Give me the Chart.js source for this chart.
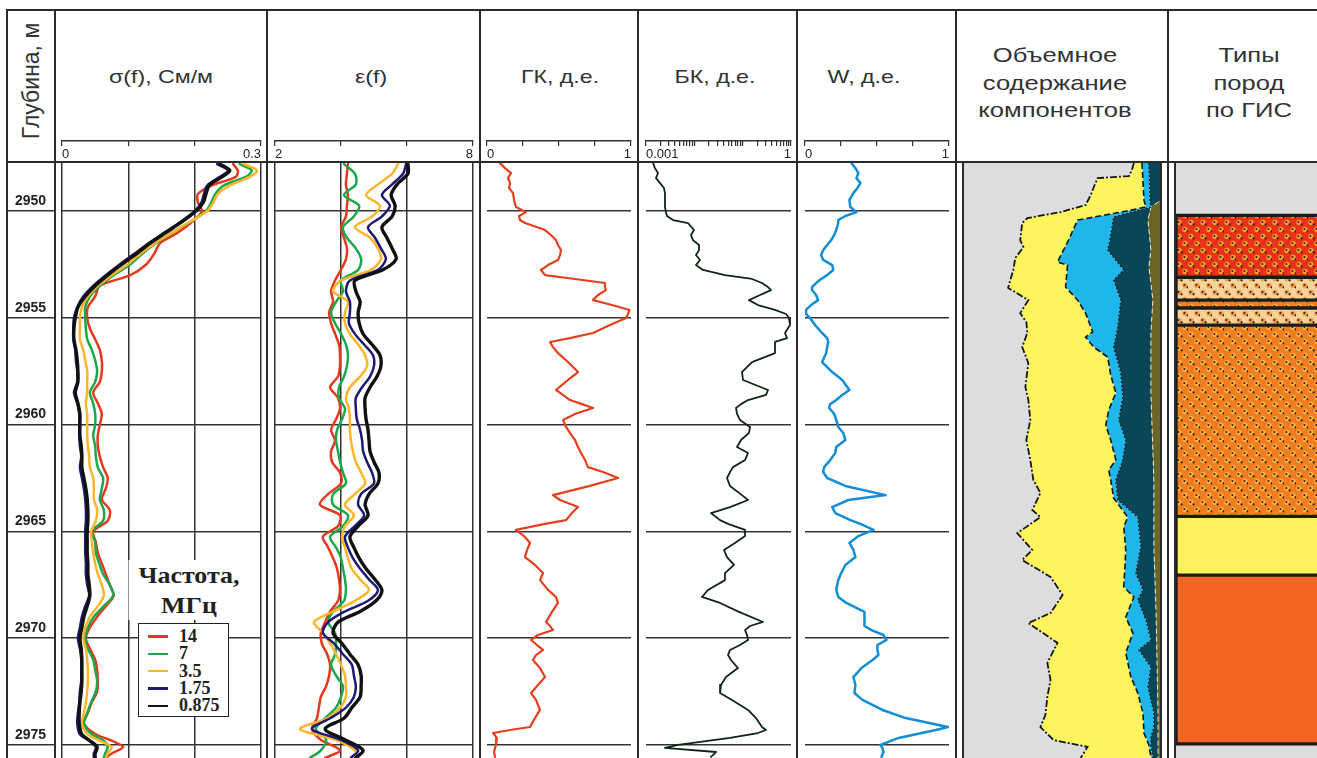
<!DOCTYPE html>
<html lang="ru">
<head>
<meta charset="utf-8">
<title>Каротажный планшет</title>
<script src="https://cdn.jsdelivr.net/npm/chart.js@4.4.1/dist/chart.umd.min.js"></script>
<style>
  html, body { margin: 0; padding: 0; background: #fff; }
  body { width: 1317px; height: 758px; position: relative; overflow: hidden;
         font-family: "Liberation Sans", Arial, sans-serif; color: #333; }
  canvas { position: absolute; }
  .vl { position: absolute; width: 2px; background: #2b2b2b; }
  .hl { position: absolute; height: 2px; background: #2b2b2b; }
  .hdr { position: absolute; width: 220px; text-align: center; font-size: 19px; line-height: 27.5px;
         color: #333; transform: scaleX(1.22); white-space: nowrap; }
  .hdr.big { font-size: 21px; }
  #depthTitle { position: absolute; left: -39px; top: 68px; width: 140px; height: 26px; line-height: 26px;
                text-align: center; font-size: 23px; color: #333; transform: rotate(-90deg); white-space: nowrap; }
  #legendTitle { position: absolute; left: 133px; top: 560px; width: 112px; text-align: center; background: #fff;
                 font-family: "Liberation Serif", "Times New Roman", serif; font-weight: bold; font-size: 24px;
                 line-height: 30px; color: #222; transform: scaleX(1.08); }
  #freqLegend { position: absolute; left: 138px; top: 623px; width: 91px; height: 94px; box-sizing: border-box;
                border: 1.5px solid #222; background: #fff; padding-top: 4px; }
  .lrow { height: 17.3px; display: flex; align-items: center; font-family: "Liberation Serif", "Times New Roman", serif;
          font-weight: bold; font-size: 18px; color: #222; }
  .sw { display: inline-block; width: 20px; height: 2.5px; margin-left: 9px; margin-right: 11px; }
</style>
</head>
<body>

<div id="depthTitle">Глубина, м</div>
<div class="hdr" style="left:51px; top:63px;">σ(f), См/м</div>
<div class="hdr" style="left:261px; top:63px;">ε(f)</div>
<div class="hdr" style="left:450px; top:63px;">ГК, д.е.</div>
<div class="hdr" style="left:605px; top:63px;">БК, д.е.</div>
<div class="hdr" style="left:754px; top:63px;">W, д.е.</div>
<div class="hdr big" style="left:945px; top:41px;">Объемное<br>содержание<br>компонентов</div>
<div class="hdr big" style="left:1139px; top:41px;">Типы<br>пород<br>по ГИС</div>

<canvas id="depthChart" width="48" height="595" style="left:7px; top:163px;"></canvas>
<canvas id="sigmaChart" width="203" height="630" style="left:60px; top:128px;"></canvas>
<canvas id="epsChart" width="202" height="630" style="left:273px; top:128px;"></canvas>
<canvas id="gkChart" width="148" height="630" style="left:485px; top:128px;"></canvas>
<canvas id="bkChart" width="149" height="630" style="left:644px; top:128px;"></canvas>
<canvas id="wChart" width="148" height="630" style="left:803px; top:128px;"></canvas>
<canvas id="volChart" width="198" height="595" style="left:963px; top:163px;"></canvas>
<canvas id="typesChart" width="141" height="595" style="left:1176px; top:163px;"></canvas>

<div id="legendTitle">Частота,<br>МГц</div>
<div id="freqLegend"></div>

<div id="frame"></div>

<script>
// ---- depth axis -----------------------------------------------------------
const DEPTH_MIN = 2947.75;
const DEPTH_MAX = 2975.61;
const depthLines = [2950, 2955, 2960, 2965, 2970, 2975];

// ---- frequency sounding: conductivity and permittivity ---------------------
const freqLabels = ['14', '7', '3.5', '1.75', '0.875'];
const freqColors = ['#e4391d', '#1aa84b', '#fdb62b', '#1b1a74', '#111111'];

const sigmaDepth = [2947.8, 2948.1, 2948.4, 2948.8, 2949.2, 2949.6, 2950.0, 2950.5, 2951.0, 2951.5,
  2952.0, 2952.5, 2953.0, 2953.5, 2954.0, 2954.5, 2955.0, 2955.5, 2956.0, 2956.5,
  2957.0, 2957.5, 2958.0, 2958.5, 2959.0, 2959.5, 2960.0, 2960.5, 2961.0, 2961.5,
  2962.0, 2962.5, 2963.0, 2963.5, 2964.0, 2964.5, 2965.0, 2965.5, 2966.0, 2966.5,
  2967.0, 2967.5, 2968.0, 2968.5, 2969.0, 2969.5, 2970.0, 2970.5, 2971.0, 2971.5,
  2972.0, 2972.5, 2973.0, 2973.5, 2974.0, 2974.5, 2974.8, 2975.1, 2975.4, 2975.6];

const sigma14 = [0.258, 0.265, 0.262, 0.226, 0.205, 0.205, 0.211, 0.196, 0.175, 0.148,
  0.139, 0.127, 0.103, 0.057, 0.050, 0.039, 0.038, 0.042, 0.050, 0.057,
  0.060, 0.060, 0.057, 0.047, 0.054, 0.060, 0.057, 0.054, 0.054, 0.057,
  0.062, 0.069, 0.066, 0.060, 0.072, 0.069, 0.047, 0.051, 0.054, 0.060,
  0.066, 0.072, 0.078, 0.066, 0.053, 0.042, 0.036, 0.042, 0.050, 0.053,
  0.054, 0.053, 0.045, 0.039, 0.033, 0.051, 0.075, 0.092, 0.075, 0.066];
const sigma7 = [0.268, 0.286, 0.277, 0.244, 0.231, 0.225, 0.217, 0.194, 0.166, 0.142,
  0.121, 0.103, 0.078, 0.057, 0.042, 0.035, 0.035, 0.036, 0.038, 0.045,
  0.050, 0.053, 0.050, 0.042, 0.047, 0.050, 0.050, 0.047, 0.050, 0.051,
  0.054, 0.062, 0.060, 0.057, 0.063, 0.062, 0.045, 0.050, 0.051, 0.056,
  0.062, 0.072, 0.077, 0.063, 0.048, 0.039, 0.035, 0.039, 0.047, 0.050,
  0.053, 0.051, 0.044, 0.038, 0.033, 0.045, 0.063, 0.069, 0.065, 0.063];
const sigma35 = [0.274, 0.294, 0.283, 0.253, 0.235, 0.228, 0.219, 0.193, 0.166, 0.140,
  0.118, 0.099, 0.075, 0.054, 0.039, 0.030, 0.027, 0.027, 0.027, 0.032,
  0.035, 0.038, 0.038, 0.038, 0.036, 0.038, 0.038, 0.038, 0.039, 0.041,
  0.042, 0.047, 0.048, 0.048, 0.053, 0.051, 0.044, 0.045, 0.047, 0.050,
  0.054, 0.060, 0.063, 0.054, 0.042, 0.035, 0.032, 0.036, 0.038, 0.039,
  0.039, 0.038, 0.036, 0.033, 0.030, 0.039, 0.057, 0.075, 0.069, 0.066];
const sigma175 = [0.234, 0.250, 0.238, 0.219, 0.214, 0.210, 0.200, 0.179, 0.155, 0.131,
  0.109, 0.087, 0.066, 0.047, 0.032, 0.023, 0.018, 0.017, 0.017, 0.020,
  0.021, 0.023, 0.023, 0.018, 0.023, 0.026, 0.026, 0.026, 0.027, 0.029,
  0.027, 0.030, 0.033, 0.035, 0.036, 0.036, 0.035, 0.035, 0.035, 0.036,
  0.036, 0.038, 0.041, 0.035, 0.030, 0.027, 0.024, 0.027, 0.029, 0.029,
  0.029, 0.027, 0.026, 0.024, 0.023, 0.027, 0.041, 0.051, 0.048, 0.048];
const sigma0875 = [0.238, 0.253, 0.241, 0.222, 0.217, 0.213, 0.202, 0.181, 0.157, 0.133,
  0.112, 0.090, 0.069, 0.050, 0.035, 0.024, 0.020, 0.018, 0.018, 0.021,
  0.023, 0.024, 0.024, 0.020, 0.024, 0.027, 0.027, 0.027, 0.029, 0.030,
  0.030, 0.033, 0.036, 0.038, 0.039, 0.039, 0.038, 0.038, 0.038, 0.039,
  0.039, 0.041, 0.042, 0.038, 0.033, 0.030, 0.027, 0.029, 0.030, 0.030,
  0.030, 0.029, 0.027, 0.026, 0.026, 0.030, 0.042, 0.053, 0.050, 0.050];

const epsDepth = [2947.8, 2948.25, 2948.75, 2949.25, 2949.75, 2950.25, 2950.75, 2951.25, 2951.75, 2952.25,
  2952.75, 2953.25, 2953.75, 2954.25, 2954.75, 2955.25, 2955.75, 2956.25, 2956.75, 2957.25,
  2957.75, 2958.25, 2958.75, 2959.25, 2959.75, 2960.25, 2960.75, 2961.25, 2961.75, 2962.25,
  2962.75, 2963.25, 2963.75, 2964.25, 2964.75, 2965.25, 2965.75, 2966.25, 2966.75, 2967.25,
  2967.75, 2968.25, 2968.75, 2969.25, 2969.75, 2970.25, 2970.75, 2971.25, 2971.75, 2972.25,
  2972.75, 2973.25, 2973.75, 2974.25, 2974.75, 2975.25, 2975.6];

const eps14 = [4.21, 4.18, 4.15, 4.21, 4.18, 4.15, 4.00, 4.09, 4.18, 4.15,
  4.00, 3.82, 3.70, 3.76, 3.64, 3.70, 3.82, 3.94, 3.97, 3.97,
  3.91, 3.67, 3.91, 3.97, 3.85, 3.70, 3.82, 3.70, 3.73, 3.97,
  4.00, 3.61, 3.36, 3.97, 3.91, 3.45, 3.61, 3.76, 3.88, 3.94,
  3.97, 3.91, 3.67, 3.52, 3.39, 3.42, 3.58, 3.67, 3.64, 3.55,
  3.39, 3.33, 3.27, 3.12, 3.39, 3.97, 3.52];
const eps7 = [4.09, 4.42, 4.45, 4.09, 4.55, 4.39, 4.06, 4.18, 4.45, 4.61,
  4.52, 4.00, 4.06, 3.85, 3.70, 3.82, 4.00, 4.15, 4.21, 4.18,
  4.09, 3.94, 3.94, 4.12, 4.03, 3.88, 3.85, 3.91, 3.97, 4.06,
  4.15, 3.76, 3.76, 4.21, 4.06, 3.67, 3.85, 4.00, 4.06, 4.12,
  4.15, 4.09, 3.76, 3.61, 3.82, 3.85, 3.82, 3.70, 3.85, 4.06,
  4.00, 3.85, 3.52, 3.24, 3.55, 3.39, 3.06];
const eps35 = [5.73, 5.55, 5.12, 4.76, 5.18, 4.94, 4.42, 4.88, 5.12, 5.21,
  4.91, 4.00, 3.76, 4.21, 4.12, 4.12, 4.27, 4.52, 4.73, 4.79,
  4.58, 4.27, 4.15, 4.24, 4.27, 4.27, 4.30, 4.36, 4.45, 4.61,
  4.73, 4.42, 4.12, 4.39, 4.12, 4.03, 4.12, 4.21, 4.33, 4.58,
  4.85, 4.42, 3.76, 3.18, 3.45, 3.67, 3.85, 4.00, 4.12, 4.15,
  4.15, 3.97, 3.58, 2.76, 3.82, 4.42, 4.52];
const eps175 = [5.97, 5.88, 5.55, 5.24, 5.48, 5.24, 4.82, 5.03, 5.21, 5.36,
  5.12, 4.27, 4.15, 4.27, 4.27, 4.24, 4.42, 4.70, 4.97, 5.00,
  4.88, 4.64, 4.45, 4.45, 4.48, 4.58, 4.64, 4.67, 4.79, 4.94,
  5.00, 4.61, 4.52, 4.70, 4.42, 4.12, 4.21, 4.36, 4.58, 4.85,
  5.12, 4.82, 4.12, 3.61, 3.45, 3.79, 4.06, 4.33, 4.39, 4.45,
  4.39, 4.15, 3.67, 3.12, 3.97, 4.52, 4.30];
const eps0875 = [6.03, 6.03, 5.70, 5.52, 5.64, 5.55, 5.24, 5.39, 5.55, 5.67,
  5.27, 4.42, 4.45, 4.58, 4.52, 4.55, 4.67, 4.94, 5.18, 5.21,
  5.09, 4.88, 4.73, 4.73, 4.76, 4.82, 4.85, 4.88, 5.00, 5.15,
  5.12, 4.85, 4.73, 4.82, 4.52, 4.27, 4.39, 4.55, 4.76, 5.03,
  5.24, 5.06, 4.58, 3.91, 3.76, 4.03, 4.27, 4.52, 4.61, 4.61,
  4.58, 4.33, 4.09, 3.52, 4.12, 4.67, 4.45];

// ---- standard logs: gamma ray, laterolog, water saturation -----------------
const logDepth = [2947.75, 2947.99, 2948.22, 2948.46, 2948.69, 2948.92, 2949.16, 2949.49, 2949.81, 2950.05,
  2950.23, 2950.42, 2950.56, 2950.89, 2951.12, 2951.36, 2951.59, 2951.83, 2952.06, 2952.29,
  2952.53, 2952.76, 2953.00, 2953.18, 2953.37, 2953.56, 2953.70, 2953.93, 2954.17, 2954.40,
  2954.63, 2954.82, 2955.01, 2955.34, 2955.71, 2955.95, 2956.13, 2956.37, 2956.65, 2957.07,
  2957.54, 2957.91, 2958.38, 2958.61, 2958.85, 2959.04, 2959.22, 2959.50, 2959.78, 2960.11,
  2960.39, 2960.72, 2961.05, 2961.33, 2961.66, 2961.99, 2962.22, 2962.50, 2962.87, 2963.30,
  2963.53, 2963.86, 2964.14, 2964.47, 2964.65, 2964.93, 2965.22, 2965.54, 2965.87, 2966.20,
  2966.57, 2966.95, 2967.28, 2967.74, 2968.07, 2968.35, 2968.77, 2969.24, 2969.43, 2969.62,
  2969.85, 2970.08, 2970.32, 2970.55, 2970.79, 2971.02, 2971.40, 2971.82, 2972.19, 2972.57,
  2972.89, 2973.36, 2973.74, 2974.16, 2974.30, 2974.44, 2974.67, 2975.00, 2975.14, 2975.33,
  2975.56];

const gkValues = [0.090, 0.125, 0.167, 0.146, 0.160, 0.153, 0.181, 0.188, 0.201, 0.271,
  0.222, 0.229, 0.264, 0.403, 0.444, 0.479, 0.493, 0.514, 0.507, 0.493,
  0.424, 0.375, 0.403, 0.611, 0.819, 0.819, 0.826, 0.771, 0.736, 0.868,
  0.990, 0.979, 0.965, 0.854, 0.736, 0.576, 0.438, 0.458, 0.493, 0.563,
  0.632, 0.563, 0.479, 0.528, 0.576, 0.660, 0.736, 0.611, 0.528, 0.549,
  0.576, 0.611, 0.632, 0.653, 0.681, 0.701, 0.806, 0.910, 0.715, 0.458,
  0.507, 0.632, 0.590, 0.549, 0.403, 0.201, 0.257, 0.299, 0.278, 0.264,
  0.333, 0.389, 0.368, 0.424, 0.479, 0.493, 0.451, 0.410, 0.438, 0.458,
  0.354, 0.306, 0.347, 0.389, 0.340, 0.319, 0.368, 0.403, 0.354, 0.306,
  0.340, 0.368, 0.333, 0.299, 0.160, 0.042, 0.069, 0.063, 0.056, 0.049,
  0.056];

const bkValues = [0.0014, 0.00153, 0.00177, 0.00161, 0.00195, 0.00235, 0.00247, 0.00247, 0.00247, 0.00259,
  0.00272, 0.00362, 0.0074, 0.00984, 0.00853, 0.00938, 0.0125, 0.0125, 0.01081, 0.01309,
  0.01081, 0.0151, 0.043, 0.156, 0.251, 0.334, 0.385, 0.229, 0.135, 0.207,
  0.467, 0.789, 0.91, 0.953, 0.752, 0.826, 0.467, 0.467, 0.467, 0.156,
  0.0968, 0.1016, 0.334, 0.304, 0.129, 0.0925, 0.0728, 0.0764, 0.0881, 0.142,
  0.135, 0.0925, 0.0764, 0.129, 0.112, 0.0631, 0.0547, 0.0474, 0.0547, 0.0968,
  0.129, 0.0547, 0.0221, 0.034, 0.0498, 0.112, 0.112, 0.0693, 0.0411, 0.0474,
  0.0662, 0.043, 0.043, 0.0192, 0.0144, 0.034, 0.0839, 0.264, 0.142, 0.112,
  0.123, 0.129, 0.0881, 0.0547, 0.0498, 0.0574, 0.08, 0.0452, 0.0356, 0.034,
  0.0601, 0.129, 0.189, 0.251, 0.304, 0.207, 0.0547, 0.00459, 0.00247, 0.0281,
  0.0221];

const wValues = [0.322, 0.350, 0.371, 0.357, 0.385, 0.364, 0.336, 0.308, 0.315, 0.357,
  0.280, 0.231, 0.231, 0.217, 0.203, 0.182, 0.154, 0.126, 0.112, 0.126,
  0.189, 0.196, 0.154, 0.112, 0.077, 0.049, 0.049, 0.077, 0.091, 0.042,
  0.007, 0.007, 0.035, 0.070, 0.119, 0.154, 0.161, 0.154, 0.147, 0.119,
  0.189, 0.259, 0.308, 0.259, 0.217, 0.175, 0.168, 0.203, 0.217, 0.231,
  0.266, 0.280, 0.217, 0.210, 0.175, 0.133, 0.126, 0.154, 0.280, 0.559,
  0.301, 0.189, 0.210, 0.315, 0.385, 0.476, 0.371, 0.308, 0.336, 0.350,
  0.280, 0.252, 0.231, 0.217, 0.231, 0.287, 0.413, 0.413, 0.413, 0.462,
  0.545, 0.566, 0.503, 0.503, 0.510, 0.469, 0.392, 0.336, 0.350, 0.343,
  0.399, 0.538, 0.699, 0.993, 0.909, 0.811, 0.650, 0.524, 0.538, 0.545,
  0.531];

// ---- volumetric model: cumulative component boundaries (fraction of 1) ------
const volDepthA = [2947.75, 2948.08, 2948.36, 2948.46, 2948.78, 2949.25, 2949.72, 2950.05, 2950.33, 2950.56,
  2951.36, 2951.69, 2952.20, 2952.76, 2953.23, 2953.60, 2954.17, 2954.78, 2955.20, 2955.71,
  2956.37, 2957.12, 2958.24, 2958.85, 2959.78, 2960.72, 2961.66, 2962.59, 2963.20, 2964.00,
  2964.33, 2965.08, 2965.87, 2966.34, 2967.13, 2967.98, 2968.82, 2969.29, 2970.22, 2971.16,
  2971.95, 2972.75, 2973.60, 2974.16, 2974.77, 2975.09, 2975.61];
const volEdgeA = [0.863, 0.853, 0.838, 0.680, 0.665, 0.645, 0.619, 0.492, 0.325, 0.299,
  0.289, 0.305, 0.264, 0.254, 0.239, 0.228, 0.330, 0.289, 0.320, 0.325,
  0.299, 0.330, 0.315, 0.330, 0.340, 0.320, 0.340, 0.355, 0.391, 0.350,
  0.391, 0.274, 0.350, 0.299, 0.442, 0.503, 0.442, 0.330, 0.477, 0.426,
  0.442, 0.426, 0.416, 0.391, 0.457, 0.629, 0.594];

const volDepthB = [2947.75, 2949.49, 2949.81, 2950.05, 2950.42, 2951.36, 2952.39, 2952.53, 2953.56, 2954.17,
  2954.78, 2955.66, 2955.90, 2956.37, 2956.84, 2957.68, 2958.52, 2959.32, 2960.02, 2960.72,
  2961.66, 2962.13, 2962.59, 2963.44, 2964.33, 2964.79, 2965.87, 2966.81, 2967.60, 2968.07,
  2969.01, 2969.76, 2970.69, 2971.82, 2972.57, 2973.51, 2974.44, 2975.00, 2975.61];
const volEdgeB = [0.904, 0.914, 0.924, 0.797, 0.579, 0.533, 0.477, 0.528, 0.518, 0.579,
  0.619, 0.655, 0.619, 0.660, 0.731, 0.746, 0.772, 0.736, 0.721, 0.746,
  0.772, 0.736, 0.746, 0.761, 0.832, 0.812, 0.822, 0.817, 0.812, 0.863,
  0.822, 0.858, 0.822, 0.848, 0.883, 0.909, 0.914, 0.939, 0.949];

const volDepthC = [2947.75, 2949.49, 2949.81, 2950.05, 2950.28, 2951.12, 2951.83, 2952.76, 2953.23, 2954.17,
  2955.43, 2956.37, 2957.58, 2958.71, 2959.78, 2960.72, 2961.66, 2962.59, 2963.53, 2964.33,
  2965.73, 2966.95, 2967.74, 2968.21, 2969.15, 2970.08, 2970.55, 2971.35, 2972.28, 2973.51,
  2974.16, 2974.63, 2975.00, 2975.61];
const volEdgeC = [0.939, 0.944, 0.949, 0.848, 0.761, 0.746, 0.731, 0.812, 0.761, 0.797,
  0.782, 0.761, 0.797, 0.807, 0.787, 0.822, 0.807, 0.772, 0.782, 0.883,
  0.898, 0.873, 0.909, 0.883, 0.924, 0.949, 0.888, 0.949, 0.934, 0.964,
  0.964, 0.949, 0.949, 0.959];

const volDepthD = [2947.75, 2949.49, 2949.81, 2950.42, 2951.83, 2952.62, 2954.17, 2955.71, 2957.30, 2958.52,
  2962.59, 2965.73, 2968.82, 2973.51, 2975.61];
const volEdgeD = [1.0, 1.0, 0.949, 0.934, 0.949, 0.939, 0.959, 0.949, 0.949, 0.949,
  0.964, 0.964, 0.975, 0.985, 0.985];

const volDepthE = [2947.75, 2975.61];
const volEdgeE = [1.0, 1.0];

// ---- rock types interpreted from logs -----------------------------------------
const layerTop  = [2947.75, 2950.2, 2953.1, 2954.17, 2954.54, 2955.34, 2964.3, 2967.05, 2974.95];
const layerBase = [2950.2, 2953.1, 2954.17, 2954.54, 2955.34, 2964.3, 2967.05, 2974.95, 2975.61];
const layerKind = ['none', 'sandRed', 'sandLight', 'sandOrange', 'sandLight', 'sandOrange', 'yellow', 'orange', 'none'];

// ---------------------------------------------------------------------------
const FONT = "'Liberation Sans', Arial, sans-serif";
const pts = (depths, vals) => vals.map((v, i) => ({ x: v, y: depths[i] }));

const baseOptions = () => ({
  responsive: false,
  animation: false,
  events: [],
  plugins: { legend: { display: false }, tooltip: { enabled: false }, title: { display: false } },
  elements: { point: { radius: 0 } }
});

function depthScale(showGrid) {
  return {
    type: 'linear', reverse: true, min: DEPTH_MIN, max: DEPTH_MAX, position: 'left',
    afterBuildTicks: s => { s.ticks = depthLines.map(v => ({ value: v })); },
    afterFit: s => { s.width = 0; s.paddingTop = 0; s.paddingBottom = 0; },
    ticks: { display: false },
    border: { display: false },
    grid: { display: showGrid, color: '#333', lineWidth: 1.5, drawTicks: false }
  };
}

// One log track: data axis on top (grid only) plus a scale bar in the header.
function makeTrack(id, datasets, cfg) {
  const opts = baseOptions();
  opts.indexAxis = 'y';
  opts.layout = { padding: { left: 2, right: 2, top: 0, bottom: 0 } };
  opts.scales = {
    y: depthScale(true),
    x: {
      type: cfg.type, position: 'top', min: cfg.min, max: cfg.max,
      afterBuildTicks: s => { s.ticks = (cfg.grid.length ? cfg.grid : cfg.bar).map(v => ({ value: v })); },
      afterFit: s => { s.height = 22; s.paddingLeft = 0; s.paddingRight = 0; },
      ticks: { display: false },
      border: { display: false },
      grid: { display: cfg.grid.length > 0, color: '#333', lineWidth: 1.5, drawTicks: false }
    },
    scaleBar: {
      axis: 'x', type: cfg.type, position: 'top', weight: 1, min: cfg.min, max: cfg.max,
      afterBuildTicks: s => { s.ticks = cfg.bar.map(v => ({ value: v })); },
      afterFit: s => { s.height = 13; s.paddingLeft = 0; s.paddingRight = 0; },
      ticks: {
        mirror: true, padding: 6, align: 'inner', autoSkip: false, maxRotation: 0, minRotation: 0,
        color: '#222', font: { family: FONT, size: 13 },
        callback: (v, i, t) => (i === 0 ? cfg.lo : (i === t.length - 1 ? cfg.hi : ''))
      },
      border: { display: true, color: '#333', width: 1.5 },
      grid: { drawOnChartArea: false, drawTicks: true, tickLength: -5, color: '#333', lineWidth: 1.2 }
    }
  };
  return new Chart(document.getElementById(id), { type: 'line', data: { datasets }, options: opts });
}

function curve(depths, vals, color, width, tension, order) {
  return {
    data: pts(depths, vals), borderColor: color, borderWidth: width, tension: tension,
    fill: false, pointRadius: 0, xAxisID: 'x', yAxisID: 'y', order: order,
    borderJoinStyle: 'round', borderCapStyle: 'round'
  };
}

// depth column
(() => {
  const opts = baseOptions();
  opts.layout = { padding: 0 };
  opts.scales = {
    x: { type: 'linear', display: false, min: 0, max: 1 },
    y: {
      type: 'linear', reverse: true, min: DEPTH_MIN, max: DEPTH_MAX, position: 'left',
      afterBuildTicks: s => { s.ticks = depthLines.map(v => ({ value: v })); },
      afterFit: s => { s.width = 0; s.paddingTop = 0; s.paddingBottom = 0; },
      border: { display: false },
      grid: { color: '#333', lineWidth: 1.5, drawTicks: false },
      ticks: { mirror: true, padding: 8, labelOffset: -10, color: '#222',
               font: { family: FONT, size: 14, weight: 'bold' }, callback: v => String(v) }
    }
  };
  new Chart(document.getElementById('depthChart'), { type: 'scatter', data: { datasets: [] }, options: opts });
})();

// σ(f)
const sigmaSeries = [sigma14, sigma7, sigma35, sigma175, sigma0875];
makeTrack('sigmaChart',
  sigmaSeries.map((s, i) => curve(sigmaDepth, s, freqColors[i], i === 4 ? 3.4 : 2.5, 0.3, 4 - i)),
  { type: 'linear', min: 0, max: 0.3, grid: [0, 0.1, 0.2, 0.3], bar: [0, 0.1, 0.2, 0.3], lo: '0', hi: '0.3' });

// ε(f)
const epsSeries = [eps14, eps7, eps35, eps175, eps0875];
makeTrack('epsChart',
  epsSeries.map((s, i) => curve(epsDepth, s, freqColors[i], i === 4 ? 3.4 : 2.5, 0.3, 4 - i)),
  { type: 'linear', min: 2, max: 8, grid: [2, 4, 6, 8], bar: [2, 4, 6, 8], lo: '2', hi: '8' });

// ГК
makeTrack('gkChart', [curve(logDepth, gkValues, '#e5401d', 2.2, 0, 0)],
  { type: 'linear', min: 0, max: 1, grid: [], bar: [0, 0.25, 0.5, 0.75, 1], lo: '0', hi: '1' });

// БК (log scale)
const bkBar = [];
[0.001, 0.01, 0.1].forEach(d => { for (let k = 1; k <= 9; k++) bkBar.push(+(d * k).toPrecision(3)); });
bkBar.push(1);
makeTrack('bkChart', [curve(logDepth, bkValues, '#0f2616', 1.8, 0, 0)],
  { type: 'logarithmic', min: 0.001, max: 1, grid: [], bar: bkBar, lo: '0.001', hi: '1' });

// W
makeTrack('wChart', [curve(logDepth, wValues, '#138ed6', 2.5, 0, 0)],
  { type: 'linear', min: 0, max: 1, grid: [], bar: [0, 0.25, 0.5, 0.75, 1], lo: '0', hi: '1' });

// volumetric content: filled bands between successive boundaries
(() => {
  const band = (depths, vals, fill, bg, line, width, dash) => ({
    data: pts(depths, vals), fill: fill, backgroundColor: bg, borderColor: line, borderWidth: width,
    borderDash: dash, pointRadius: 0, tension: 0
  });
  const opts = baseOptions();
  opts.indexAxis = 'y';
  opts.layout = { padding: 0 };
  opts.scales = {
    x: { type: 'linear', min: 0, max: 1, display: false },
    y: { type: 'linear', reverse: true, min: DEPTH_MIN, max: DEPTH_MAX, display: false }
  };
  new Chart(document.getElementById('volChart'), {
    type: 'line',
    data: { datasets: [
      band(volDepthA, volEdgeA, { value: 0 }, '#dcdddf', '#161616', 1.8, [7, 2, 2, 2]),
      band(volDepthB, volEdgeB, '-1', '#fff35e', '#161616', 1.6, [6, 3]),
      band(volDepthC, volEdgeC, '-1', '#1fb6ec', '#161616', 1.2, [2, 2]),
      band(volDepthD, volEdgeD, '-1', '#0a4658', '#e9e6c8', 1.0, [5, 3]),
      band(volDepthE, volEdgeE, '-1', '#6b6626', 'rgba(0,0,0,0)', 0, [])
    ] },
    options: opts
  });
})();

// rock types column
(() => {
  const canvas = document.getElementById('typesChart');
  const ctx = canvas.getContext('2d');
  const tile = (base, ring, dot) => {
    const c = document.createElement('canvas');
    c.width = 12; c.height = 14;
    const g = c.getContext('2d');
    g.fillStyle = base; g.fillRect(0, 0, 12, 14);
    [[3, 3.5], [9, 10.5]].forEach(([x, y]) => {
      g.fillStyle = ring; g.beginPath(); g.arc(x, y, 2.7, 0, Math.PI * 2); g.fill();
      g.fillStyle = dot;
      g.beginPath(); g.arc(x - 0.6, y - 0.4, 1.0, 0, Math.PI * 2); g.fill();
      g.beginPath(); g.arc(x + 2.6, y + 1.8, 1.1, 0, Math.PI * 2); g.fill();
    });
    return ctx.createPattern(c, 'repeat');
  };
  const fills = {
    none: '#dcdddf',
    sandRed: tile('#e8321d', '#f6a21e', '#2a1a10'),
    sandLight: tile('#f8d29b', '#f2a04a', '#2a1a10'),
    sandOrange: tile('#f07d1f', '#f9b13c', '#2a1a10'),
    yellow: '#fff15c',
    orange: '#f26522'
  };
  const datasets = layerTop.map((t, i) => ({
    data: [[t, layerBase[i]]],
    backgroundColor: fills[layerKind[i]],
    borderColor: '#1c1c1c',
    borderWidth: { top: i === 0 ? 0 : 2, bottom: i === layerTop.length - 1 ? 0 : 2, left: layerKind[i] === 'none' ? 0 : 2, right: 0 },
    borderSkipped: false, grouped: false, barPercentage: 1, categoryPercentage: 1
  }));
  const opts = baseOptions();
  opts.layout = { padding: 0 };
  opts.scales = {
    x: { display: false },
    y: { type: 'linear', reverse: true, min: DEPTH_MIN, max: DEPTH_MAX, display: false }
  };
  new Chart(canvas, { type: 'bar', data: { labels: ['Типы'], datasets }, options: opts });
})();

// legend for the frequency curves
(() => {
  const box = document.getElementById('freqLegend');
  freqLabels.forEach((lab, i) => {
    const row = document.createElement('div');
    row.className = 'lrow';
    const sw = document.createElement('span');
    sw.className = 'sw';
    sw.style.background = freqColors[i];
    const tx = document.createElement('span');
    tx.textContent = lab;
    row.append(sw, tx);
    box.append(row);
  });
})();

// table frame: column separators and header rules
(() => {
  const frame = document.getElementById('frame');
  const fullCols = [6, 54, 266, 479, 637, 796, 955, 1167];
  const dataCols = [962, 1160, 1174];
  fullCols.forEach(x => {
    const d = document.createElement('div');
    d.className = 'vl'; d.style.left = x + 'px'; d.style.top = '9px'; d.style.height = '749px';
    frame.append(d);
  });
  dataCols.forEach(x => {
    const d = document.createElement('div');
    d.className = 'vl'; d.style.left = x + 'px'; d.style.top = '161px'; d.style.height = '597px';
    frame.append(d);
  });
  [9, 161].forEach(y => {
    const d = document.createElement('div');
    d.className = 'hl'; d.style.left = '6px'; d.style.top = y + 'px'; d.style.width = '1311px';
    frame.append(d);
  });
})();
</script>
</body>
</html>
